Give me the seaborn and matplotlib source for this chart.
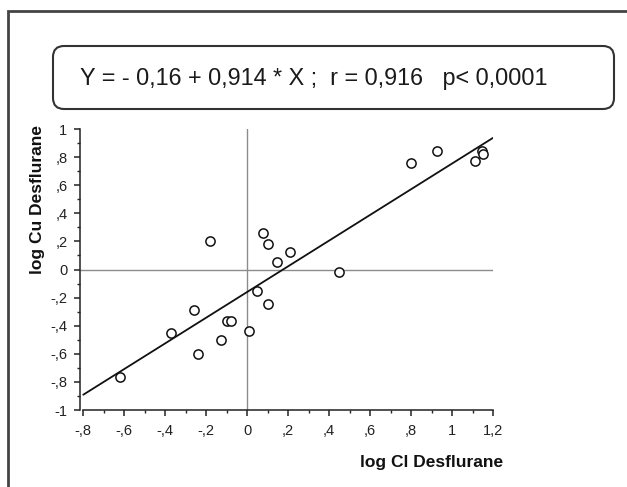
import numpy as np
import pandas as pd
import matplotlib
matplotlib.use("Agg")
import matplotlib.pyplot as plt
from matplotlib.patches import FancyBboxPatch, Rectangle
from matplotlib.transforms import IdentityTransform
from matplotlib.ticker import MultipleLocator, FuncFormatter
import seaborn as sns

# ---- data ----
log_cl = [-0.62, -0.37, -0.26, -0.24, -0.18, -0.13, -0.10, -0.08, 0.01, 0.05,
          0.075, 0.10, 0.10, 0.145, 0.21, 0.45, 0.80, 0.925, 1.11, 1.145, 1.15]
log_cu = [-0.765, -0.455, -0.29, -0.60, 0.205, -0.505, -0.37, -0.37, -0.435, -0.15,
          0.26, 0.185, -0.245, 0.055, 0.125, -0.015, 0.755, 0.84, 0.775, 0.845, 0.82]
intercept = -0.16
slope = 0.914
equation_text = "Y = - 0,16 + 0,914 * X ;  r = 0,916   p< 0,0001"
x_label = "log Cl Desflurane"
y_label = "log Cu Desflurane"
x_range = (-0.8, 1.2)
y_range = (-1.0, 1.0)

df = pd.DataFrame({"x": log_cl, "y": log_cu})
line_x = np.array(x_range)
line_df = pd.DataFrame({"x": line_x, "y": intercept + slope * line_x})

sns.set_theme(style="ticks")
plt.rcParams["font.family"] = ["Liberation Sans", "DejaVu Sans"]

W, H, DPI = 627, 487, 100
fig = plt.figure(figsize=(W / DPI, H / DPI), dpi=DPI)
fig.patch.set_facecolor("white")

left, right, top, bottom = 80, 493, 129, 410
ax = fig.add_axes([left / W, 1 - bottom / H, (right - left) / W, (bottom - top) / H])
ax.set_facecolor("white")

# reference lines at zero
ax.axhline(0, color="#8c8c8c", lw=1.0, zorder=1)
ax.axvline(0, color="#8c8c8c", lw=1.0, zorder=1)

sns.lineplot(data=line_df, x="x", y="y", ax=ax, color="#111111", lw=1.3, zorder=2)
sns.scatterplot(data=df, x="x", y="y", ax=ax, s=44, facecolor="white",
                edgecolor="#111111", linewidth=1.1, zorder=3)

ax.set_xlim(-0.816, 1.2)
ax.set_ylim(*y_range)
ax.spines["top"].set_visible(False)
ax.spines["right"].set_visible(False)
ax.spines["bottom"].set_bounds(*x_range)
for s in ("left", "bottom"):
    ax.spines[s].set_color("#222222")
    ax.spines[s].set_linewidth(1.1)

ax.xaxis.set_major_locator(MultipleLocator(0.2))
ax.xaxis.set_minor_locator(MultipleLocator(0.1))
ax.yaxis.set_major_locator(MultipleLocator(0.2))
ax.yaxis.set_minor_locator(MultipleLocator(0.1))


def fmt(v, pos):
    v = round(v, 1)
    if abs(v) < 1e-9:
        return "0"
    if abs(v - round(v)) < 1e-9:
        return "%d" % round(v)
    s = ("%.1f" % v).replace(".", ",")
    s = s.replace("-0,", "-,")
    if s.startswith("0,"):
        s = s[1:]
    return s


ax.xaxis.set_major_formatter(FuncFormatter(fmt))
ax.yaxis.set_major_formatter(FuncFormatter(fmt))
ax.set_xticks(np.round(np.arange(-0.8, 1.21, 0.2), 1))
ax.tick_params(axis="both", which="major", length=4, width=1.1, color="#222222",
               labelsize=10.5, labelcolor="#222222", direction="out")
ax.tick_params(axis="both", which="minor", length=2.3, width=1.0, color="#222222",
               direction="out")
ax.tick_params(axis="x", which="major", pad=6)
ax.tick_params(axis="y", which="major", pad=5)

ax.set_xlabel(x_label, fontsize=12.5, fontweight="bold", color="#111111",
              ha="center", va="center")
ax.set_ylabel(y_label, fontsize=12.5, fontweight="bold", color="#111111",
              ha="center", va="center")
ax.xaxis.set_label_coords((432 - left) / (right - left), (bottom - 462) / (bottom - top))
ax.yaxis.set_label_coords((38 - left) / (right - left), (bottom - 199) / (bottom - top))

# outer frame (only left and top edges visible)
frame = Rectangle((8, -20), W + 50, H - 11 + 20, transform=IdentityTransform(),
                  fill=False, edgecolor="#444444", lw=2.0)
fig.add_artist(frame)

# rounded equation box
box = FancyBboxPatch((53, H - 109), 614 - 53, 109 - 46,
                     boxstyle="round,pad=0,rounding_size=11",
                     transform=IdentityTransform(), fill=False,
                     edgecolor="#333333", lw=1.5)
fig.add_artist(box)
fig.text((81 + 547) / 2 / W, 1 - 79 / H, equation_text, ha="center", va="center",
         fontsize=16.8, color="#1a1a1a")

fig.savefig("out.png", dpi=DPI, facecolor="white")
